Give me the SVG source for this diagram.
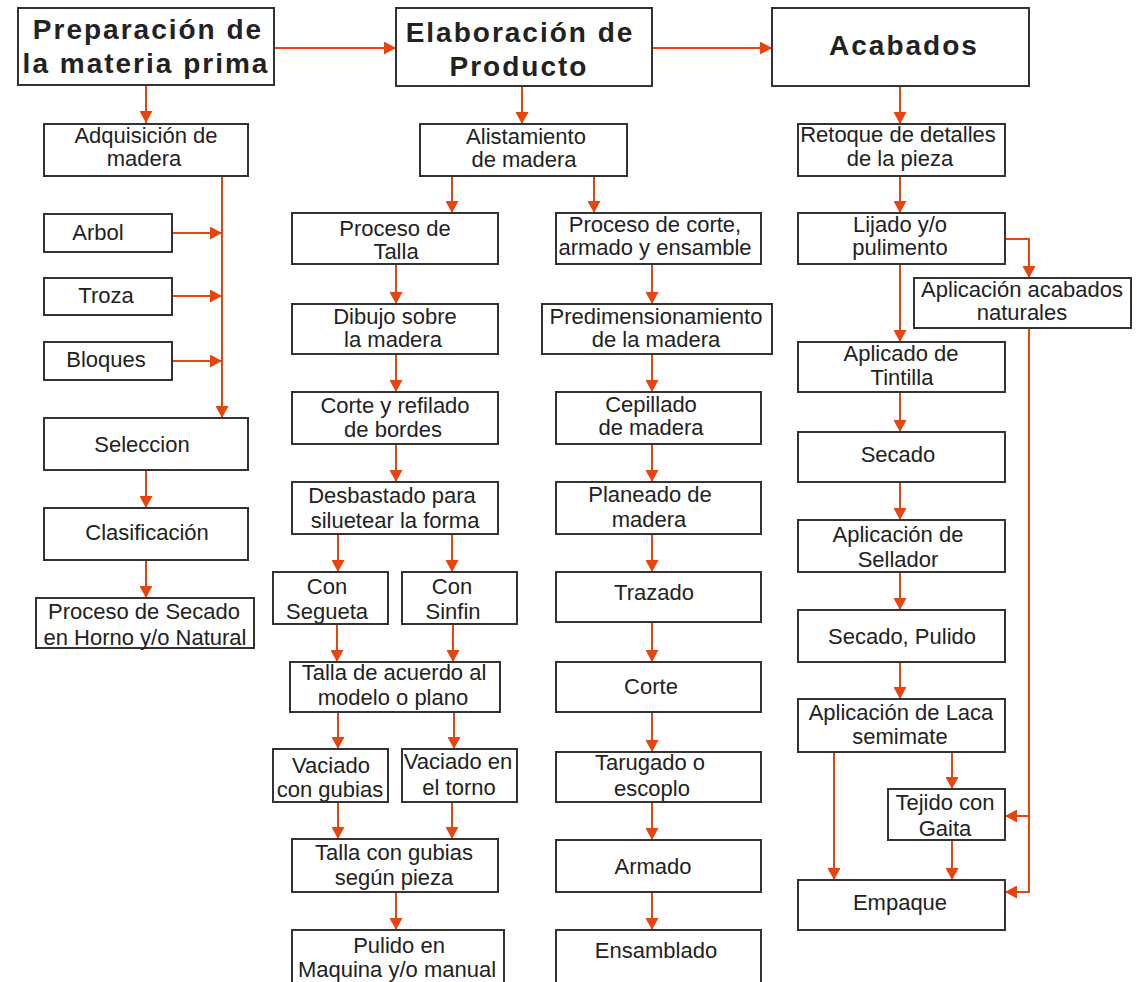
<svg xmlns="http://www.w3.org/2000/svg" width="1137" height="982" viewBox="0 0 1137 982">
<style>
.box{fill:#fff;stroke:#333;stroke-width:2}
.t{font-family:"Liberation Sans",Arial,sans-serif;font-size:22px;fill:#222;text-anchor:middle}
.h{font-weight:bold;font-size:28px;letter-spacing:2px}
.c{stroke:#e8440f;stroke-width:2;fill:none;marker-end:url(#ah)}
.l{stroke:#e8440f;stroke-width:2;fill:none}
</style>
<defs>
<marker id="ah" markerUnits="userSpaceOnUse" markerWidth="13" markerHeight="13" refX="12" refY="6.5" orient="auto"><path d="M0,0 L12,6.5 L0,13 z" fill="#e8440f"/></marker>
</defs>
<rect width="1137" height="982" fill="#fff"/>
<g id="connectors">
<path class="c" d="M274,48 H396"/>
<path class="c" d="M652,48 H772"/>
<path class="c" d="M146,85 V123"/>
<path class="c" d="M222,176 V418"/>
<path class="c" d="M172,233 H222"/>
<path class="c" d="M172,296 H222"/>
<path class="c" d="M172,361 H222"/>
<path class="c" d="M146,470 V508"/>
<path class="c" d="M146,560 V598"/>
<path class="c" d="M522,86 V124"/>
<path class="c" d="M452,176 V213"/>
<path class="c" d="M594,176 V213"/>
<path class="c" d="M396,264 V304"/>
<path class="c" d="M396,354 V392"/>
<path class="c" d="M396,444 V482"/>
<path class="c" d="M338,534 V572"/>
<path class="c" d="M452,534 V572"/>
<path class="c" d="M337,624 V662"/>
<path class="c" d="M453,624 V662"/>
<path class="c" d="M338,712 V749"/>
<path class="c" d="M454,712 V749"/>
<path class="c" d="M338,802 V839"/>
<path class="c" d="M452,802 V839"/>
<path class="c" d="M396,892 V930"/>
<path class="c" d="M652,264 V304"/>
<path class="c" d="M652,354 V392"/>
<path class="c" d="M652,444 V482"/>
<path class="c" d="M652,534 V572"/>
<path class="c" d="M652,622 V662"/>
<path class="c" d="M652,712 V752"/>
<path class="c" d="M652,802 V840"/>
<path class="c" d="M652,892 V930"/>
<path class="c" d="M900,86 V124"/>
<path class="c" d="M900,176 V213"/>
<path class="c" d="M1005,239 H1029 V278"/>
<path class="c" d="M900,264 V342"/>
<path class="c" d="M900,392 V432"/>
<path class="c" d="M900,482 V520"/>
<path class="c" d="M900,572 V610"/>
<path class="c" d="M900,662 V699"/>
<path class="c" d="M834,752 V880"/>
<path class="c" d="M952,752 V789"/>
<path class="c" d="M952,840 V880"/>
<path class="c" d="M1029,328 V892 H1005"/>
<path class="c" d="M1029,816 H1005"/>
</g>
<g id="n-prep"><rect class="box" x="18" y="8" width="256" height="77"/><text class="t h" x="148" y="39">Preparación de</text><text class="t h" x="146" y="73">la materia prima</text></g>
<g id="n-elab"><rect class="box" x="396" y="8" width="256" height="78"/><text class="t h" x="520" y="42">Elaboración de</text><text class="t h" x="519" y="76">Producto</text></g>
<g id="n-acab"><rect class="box" x="772" y="8" width="257" height="78"/><text class="t h" x="904" y="55">Acabados</text></g>

<g id="n-adq"><rect class="box" x="44" y="124" width="204" height="52"/><text class="t" x="146" y="143">Adquisición de</text><text class="t" x="144" y="166">madera</text></g>
<g id="n-arbol"><rect class="box" x="44" y="214" width="128" height="38"/><text class="t" x="98" y="240">Arbol</text></g>
<g id="n-troza"><rect class="box" x="44" y="278" width="128" height="37"/><text class="t" x="106" y="303">Troza</text></g>
<g id="n-bloques"><rect class="box" x="44" y="342" width="128" height="38"/><text class="t" x="106" y="367">Bloques</text></g>
<g id="n-seleccion"><rect class="box" x="44" y="418" width="204" height="52"/><text class="t" x="142" y="452">Seleccion</text></g>
<g id="n-clasif"><rect class="box" x="44" y="508" width="204" height="52"/><text class="t" x="147" y="540">Clasificación</text></g>
<g id="n-secadoh"><rect class="box" x="36" y="598" width="218" height="50"/><text class="t" x="144" y="619">Proceso de Secado</text><text class="t" x="145" y="645">en Horno y/o Natural</text></g>

<g id="n-alist"><rect class="box" x="420" y="124" width="207" height="52"/><text class="t" x="526" y="144">Alistamiento</text><text class="t" x="524" y="167">de madera</text></g>
<g id="n-talla"><rect class="box" x="292" y="213" width="206" height="51"/><text class="t" x="395" y="236">Proceso de</text><text class="t" x="396" y="259">Talla</text></g>
<g id="n-dibujo"><rect class="box" x="292" y="304" width="206" height="50"/><text class="t" x="395" y="324">Dibujo sobre</text><text class="t" x="393" y="347">la madera</text></g>
<g id="n-refilado"><rect class="box" x="292" y="392" width="206" height="52"/><text class="t" x="395" y="413">Corte y refilado</text><text class="t" x="393" y="437">de bordes</text></g>
<g id="n-desbast"><rect class="box" x="292" y="482" width="206" height="52"/><text class="t" x="392" y="503">Desbastado para</text><text class="t" x="395" y="528">siluetear la forma</text></g>
<g id="n-segueta"><rect class="box" x="273" y="572" width="115" height="52"/><text class="t" x="327" y="594">Con</text><text class="t" x="327" y="619">Segueta</text></g>
<g id="n-sinfin"><rect class="box" x="402" y="572" width="115" height="52"/><text class="t" x="452" y="594">Con</text><text class="t" x="453" y="619">Sinfin</text></g>
<g id="n-acuerdo"><rect class="box" x="290" y="662" width="210" height="50"/><text class="t" x="394" y="680">Talla de acuerdo al</text><text class="t" x="393" y="705">modelo o plano</text></g>
<g id="n-vgubias"><rect class="box" x="273" y="749" width="115" height="53"/><text class="t" x="331" y="773">Vaciado</text><text class="t" x="330" y="797">con gubias</text></g>
<g id="n-vtorno"><rect class="box" x="402" y="749" width="115" height="53"/><text class="t" x="458" y="769">Vaciado en</text><text class="t" x="459" y="795">el torno</text></g>
<g id="n-tgubias"><rect class="box" x="292" y="839" width="206" height="53"/><text class="t" x="394" y="860">Talla con gubias</text><text class="t" x="394" y="885">según pieza</text></g>
<g id="n-pulido"><rect class="box" x="292" y="930" width="212" height="60"/><text class="t" x="399" y="953">Pulido en</text><text class="t" x="397" y="977">Maquina y/o manual</text></g>

<g id="n-pcorte"><rect class="box" x="556" y="213" width="205" height="51"/><text class="t" x="655" y="232">Proceso de corte,</text><text class="t" x="655" y="255">armado y ensamble</text></g>
<g id="n-predim"><rect class="box" x="542" y="304" width="230" height="50"/><text class="t" x="656" y="324">Predimensionamiento</text><text class="t" x="656" y="347">de la madera</text></g>
<g id="n-cepill"><rect class="box" x="556" y="392" width="205" height="52"/><text class="t" x="651" y="412">Cepillado</text><text class="t" x="651" y="435">de madera</text></g>
<g id="n-planeado"><rect class="box" x="556" y="482" width="205" height="52"/><text class="t" x="650" y="502">Planeado de</text><text class="t" x="649" y="527">madera</text></g>
<g id="n-trazado"><rect class="box" x="556" y="572" width="205" height="50"/><text class="t" x="654" y="600">Trazado</text></g>
<g id="n-corte"><rect class="box" x="556" y="662" width="205" height="50"/><text class="t" x="651" y="694">Corte</text></g>
<g id="n-tarugado"><rect class="box" x="556" y="752" width="205" height="50"/><text class="t" x="650" y="770">Tarugado o</text><text class="t" x="652" y="796">escoplo</text></g>
<g id="n-armado"><rect class="box" x="556" y="840" width="205" height="52"/><text class="t" x="653" y="874">Armado</text></g>
<g id="n-ensamblado"><rect class="box" x="556" y="930" width="205" height="60"/><text class="t" x="656" y="958">Ensamblado</text></g>

<g id="n-retoque"><rect class="box" x="798" y="124" width="207" height="52"/><text class="t" x="898" y="142">Retoque de detalles</text><text class="t" x="900" y="166">de la pieza</text></g>
<g id="n-lijado"><rect class="box" x="798" y="213" width="207" height="51"/><text class="t" x="900" y="232">Lijado y/o</text><text class="t" x="900" y="255">pulimento</text></g>
<g id="n-naturales"><rect class="box" x="914" y="278" width="217" height="50"/><text class="t" x="1022" y="297">Aplicación acabados</text><text class="t" x="1022" y="320">naturales</text></g>
<g id="n-tintilla"><rect class="box" x="798" y="342" width="207" height="50"/><text class="t" x="901" y="361">Aplicado de</text><text class="t" x="902" y="385">Tintilla</text></g>
<g id="n-secado"><rect class="box" x="798" y="432" width="207" height="50"/><text class="t" x="898" y="462">Secado</text></g>
<g id="n-sellador"><rect class="box" x="798" y="520" width="207" height="52"/><text class="t" x="898" y="542">Aplicación de</text><text class="t" x="898" y="567">Sellador</text></g>
<g id="n-secpul"><rect class="box" x="798" y="610" width="207" height="52"/><text class="t" x="902" y="644">Secado, Pulido</text></g>
<g id="n-laca"><rect class="box" x="798" y="699" width="207" height="53"/><text class="t" x="901" y="720">Aplicación de Laca</text><text class="t" x="900" y="744">semimate</text></g>
<g id="n-tejido"><rect class="box" x="888" y="789" width="117" height="51"/><text class="t" x="945" y="810">Tejido con</text><text class="t" x="945" y="836">Gaita</text></g>
<g id="n-empaque"><rect class="box" x="798" y="880" width="207" height="50"/><text class="t" x="900" y="910">Empaque</text></g>
</svg>
